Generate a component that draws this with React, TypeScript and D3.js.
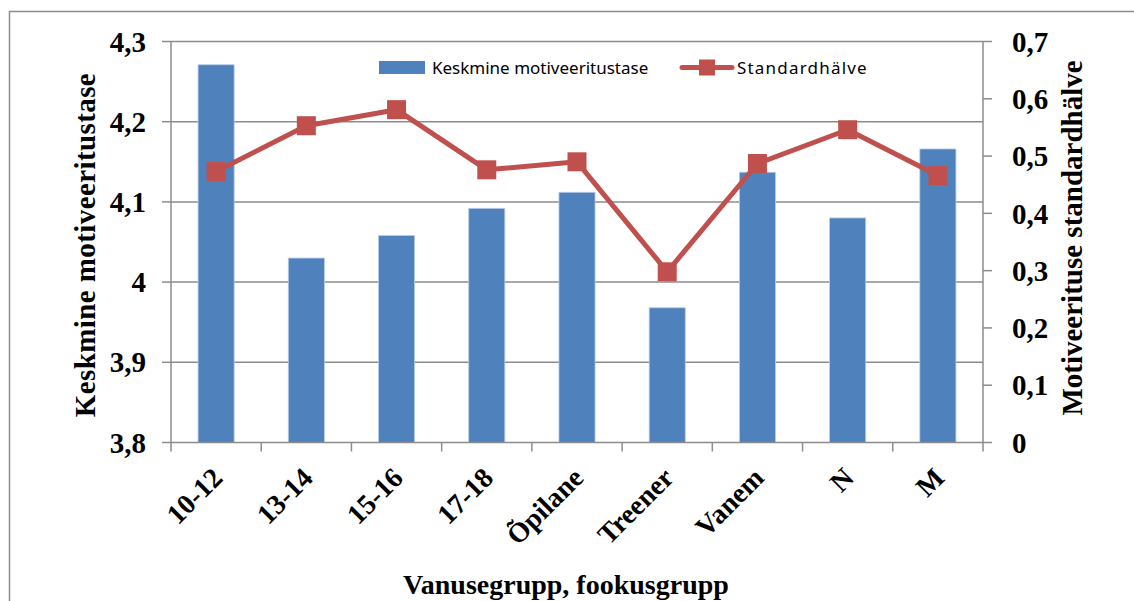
import React, { useEffect, useRef } from 'react';
import * as d3 from 'd3';

// values
const categories = ['10-12', '13-14', '15-16', '17-18', 'Õpilane', 'Treener', 'Vanem', 'N', 'M'];
const meanValues = [4.271, 4.03, 4.058, 4.092, 4.112, 3.968, 4.137, 4.08, 4.166];
const sdValues = [0.473, 0.553, 0.581, 0.476, 0.49, 0.298, 0.487, 0.546, 0.466];
const leftTicks = [3.8, 3.9, 4, 4.1, 4.2, 4.3];
const rightTicks = [0, 0.1, 0.2, 0.3, 0.4, 0.5, 0.6, 0.7];

const seriesNames = ['Keskmine motiveeritustase', 'Standardhälve'];
const leftTitle = 'Keskmine motiveeritustase';
const rightTitle = 'Motiveerituse standardhälve';
const xTitle = 'Vanusegrupp, fookusgrupp';

const W = 1134;
const H = 601;
const barColor = '#4F81BD';
const lineColor = '#C0504D';
const gridColor = '#8C8C8C';
const serif = "'Liberation Serif', 'Times New Roman', serif";
const sans = "'Noto Sans', 'Liberation Sans', sans-serif";

const fmt = d3.formatLocale({ decimal: ',', thousands: ' ', grouping: [3], currency: ['', ''] }).format('~g');

export default function App() {
  const svgRef = useRef<SVGSVGElement>(null);

  useEffect(() => {
    const svg = d3.select(svgRef.current);
    svg.selectAll('*').remove();

    const left = 171, right = 983, top = 41.5, bottom = 442.5;

    const xSlot = d3.scaleBand<string>().domain(categories).range([left, right]);
    const yL = d3.scaleLinear().domain([3.8, 4.3]).range([bottom, top]);
    const yR = d3.scaleLinear().domain([0, 0.7]).range([bottom, top]);
    const step = xSlot.step();
    const barW = step * 0.4;
    const cx = (c: string) => xSlot(c)! + step / 2;

    // outer chart border
    svg.append('rect')
      .attr('x', 9.5).attr('y', 11.5)
      .attr('width', W + 50).attr('height', H + 50)
      .attr('fill', '#fff').attr('stroke', gridColor).attr('stroke-width', 1.5);

    // gridlines
    svg.append('g').selectAll('line')
      .data(leftTicks.filter(t => t > 3.8))
      .enter().append('line')
      .attr('x1', left).attr('x2', right)
      .attr('y1', d => yL(d)).attr('y2', d => yL(d))
      .attr('stroke', gridColor).attr('stroke-width', 1.5);

    // bars
    svg.append('g').selectAll('rect')
      .data(categories)
      .enter().append('rect')
      .attr('x', d => cx(d) - barW / 2)
      .attr('width', barW)
      .attr('y', (d, i) => yL(meanValues[i]))
      .attr('height', (d, i) => bottom - yL(meanValues[i]))
      .attr('fill', barColor)
      .attr('stroke', '#B9CDE5').attr('stroke-width', 0.8);

    // left axis
    const gl = svg.append('g');
    gl.append('line').attr('x1', left).attr('x2', left).attr('y1', top).attr('y2', bottom)
      .attr('stroke', gridColor).attr('stroke-width', 1.5);
    gl.selectAll('.tk').data(leftTicks).enter().append('line')
      .attr('x1', left - 9).attr('x2', left)
      .attr('y1', d => yL(d)).attr('y2', d => yL(d))
      .attr('stroke', gridColor).attr('stroke-width', 1.5);
    gl.selectAll('text').data(leftTicks).enter().append('text')
      .attr('x', 146).attr('y', d => yL(d))
      .attr('dy', '0.35em')
      .attr('text-anchor', 'end')
      .style('font-family', serif).style('font-weight', 'bold').style('font-size', '29px')
      .text(d => fmt(d));

    // right axis
    const gr = svg.append('g');
    gr.append('line').attr('x1', right).attr('x2', right).attr('y1', top).attr('y2', bottom)
      .attr('stroke', gridColor).attr('stroke-width', 1.5);
    gr.selectAll('.tk').data(rightTicks).enter().append('line')
      .attr('x1', right).attr('x2', right + 9)
      .attr('y1', d => yR(d)).attr('y2', d => yR(d))
      .attr('stroke', gridColor).attr('stroke-width', 1.5);
    gr.selectAll('text').data(rightTicks).enter().append('text')
      .attr('x', 1012).attr('y', d => yR(d))
      .attr('dy', '0.35em')
      .style('font-family', serif).style('font-weight', 'bold').style('font-size', '29px')
      .text(d => fmt(d));

    // x axis
    const gx = svg.append('g');
    gx.append('line').attr('x1', left).attr('x2', right).attr('y1', bottom).attr('y2', bottom)
      .attr('stroke', gridColor).attr('stroke-width', 1.5);
    gx.selectAll('.tk').data(d3.range(categories.length + 1)).enter().append('line')
      .attr('x1', i => left + i * step).attr('x2', i => left + i * step)
      .attr('y1', bottom).attr('y2', bottom + 9)
      .attr('stroke', gridColor).attr('stroke-width', 1.5);
    gx.selectAll('text').data(categories).enter().append('text')
      .attr('transform', d => `translate(${cx(d) + 8},${bottom + 37}) rotate(-45)`)
      .attr('text-anchor', 'end')
      .style('font-family', serif).style('font-weight', 'bold').style('font-size', '28px')
      .text(d => d);

    // axis titles
    svg.append('text')
      .attr('transform', `translate(95,245) rotate(-90)`)
      .attr('text-anchor', 'middle')
      .style('font-family', serif).style('font-weight', 'bold').style('font-size', '29px')
      .style('letter-spacing', '0.4px')
      .text(leftTitle);
    svg.append('text')
      .attr('transform', `translate(1082,238) rotate(-90)`)
      .attr('text-anchor', 'middle')
      .style('font-family', serif).style('font-weight', 'bold').style('font-size', '29px')
      .text(rightTitle);
    svg.append('text')
      .attr('x', 566).attr('y', 594)
      .attr('text-anchor', 'middle')
      .style('font-family', serif).style('font-weight', 'bold').style('font-size', '28px')
      .text(xTitle);

    // sd line
    const line = d3.line<number>()
      .x((d, i) => cx(categories[i]))
      .y(d => yR(d));
    svg.append('path')
      .attr('d', line(sdValues))
      .attr('fill', 'none').attr('stroke', lineColor).attr('stroke-width', 5)
      .attr('stroke-linejoin', 'round');
    const ms = 19;
    svg.append('g').selectAll('rect')
      .data(sdValues).enter().append('rect')
      .attr('x', (d, i) => cx(categories[i]) - ms / 2)
      .attr('y', d => yR(d) - ms / 2)
      .attr('width', ms).attr('height', ms)
      .attr('fill', lineColor);

    // legend
    const lg = svg.append('g').style('font-family', sans).style('font-size', '17px');
    lg.append('rect').attr('x', 379).attr('y', 61).attr('width', 46).attr('height', 13).attr('fill', barColor);
    lg.append('text').attr('x', 432).attr('y', 68).attr('dy', '0.35em').attr('fill', '#000').text(seriesNames[0]);
    lg.append('line').attr('x1', 682).attr('x2', 732).attr('y1', 67.5).attr('y2', 67.5)
      .attr('stroke', lineColor).attr('stroke-width', 5).attr('stroke-linecap', 'round');
    lg.append('rect').attr('x', 699).attr('y', 59.5).attr('width', 16).attr('height', 16).attr('fill', lineColor);
    lg.append('text').attr('x', 737).attr('y', 68).attr('dy', '0.35em').attr('fill', '#000')
      .style('letter-spacing', '1.2px').text(seriesNames[1]);
  }, []);

  return (
    <svg ref={svgRef} width={W} height={H}
      style={{ position: 'absolute', left: 0, top: 0, background: '#fff' }} />
  );
}
